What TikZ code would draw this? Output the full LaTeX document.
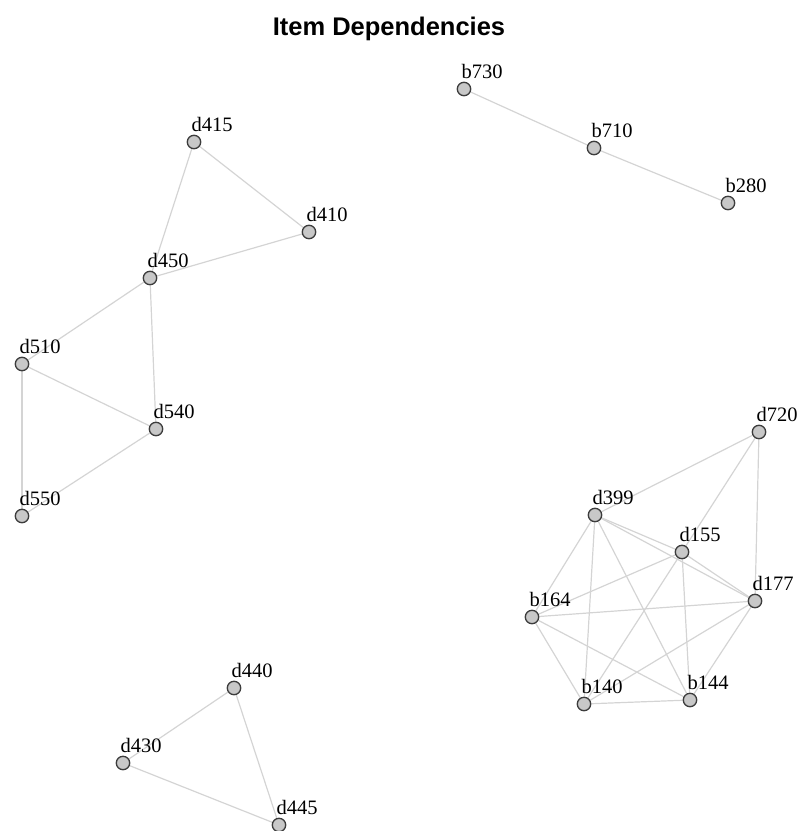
\documentclass[tikz,border=0pt]{standalone}
\usepackage{fontspec}
\setmainfont{Liberation Serif}
\newfontfamily\titlefont{Liberation Sans}
\usetikzlibrary{backgrounds}

\definecolor{vfill}{HTML}{C8C8C8}
\definecolor{vline}{HTML}{3C3C3C}
\definecolor{eline}{HTML}{D4D4D4}

\tikzset{
  vtx/.style={circle, draw=vline, fill=vfill, line width=1.3pt,
              minimum size=13.4pt, inner sep=0pt},
  lab/.style={anchor=base west, inner sep=0pt,
              font=\fontsize{20.5}{20.5}\selectfont},
  edge/.style={draw=eline, line width=1.2pt},
}

% vertex with its name printed above right
\newcommand\gvertex[3]{%
  \node[vtx] (#1) at (#2,#3) {};
  \node[lab] (#1-t) at ([xshift=-2.5pt,yshift=11pt]#1.center) {#1};}

\begin{document}
\begin{tikzpicture}[x=1pt,y=-1pt]
\useasboundingbox (0,0) rectangle (802,831);

\node[anchor=base, inner sep=0pt, font=\titlefont\bfseries\fontsize{25.5}{25.5}\selectfont]
  (title) at (389,35) {Item Dependencies};

% b-chain
\gvertex{b730}{464}{89}
\gvertex{b710}{594}{148}
\gvertex{b280}{728}{203}

% d4xx / d5xx group
\gvertex{d415}{194}{142}
\gvertex{d410}{309}{232}
\gvertex{d450}{150}{278}
\gvertex{d510}{22}{364}
\gvertex{d540}{156}{429}
\gvertex{d550}{22}{516}

% dense cluster
\gvertex{d720}{759}{432}
\gvertex{d399}{595}{515}
\gvertex{d155}{682}{552}
\gvertex{d177}{755}{601}
\gvertex{b164}{532}{617}
\gvertex{b140}{584}{704}
\gvertex{b144}{690}{700}

% bottom triangle
\gvertex{d440}{234}{688}
\gvertex{d430}{123}{763}
\gvertex{d445}{279}{825}

\begin{scope}[on background layer]
  \foreach \a/\b in {b730/b710, b710/b280,
      d415/d410, d415/d450, d410/d450, d450/d510, d450/d540,
      d510/d540, d510/d550, d540/d550,
      d720/d399, d720/d155, d720/d177,
      d399/d155, d399/d177, d399/b164, d399/b140, d399/b144,
      d155/b164, d155/b140, d155/b144, d155/d177,
      d177/b164, d177/b140, d177/b144,
      b164/b140, b164/b144, b140/b144,
      d440/d430, d440/d445, d430/d445}
    \draw[edge] (\a) -- (\b);
\end{scope}
\end{tikzpicture}
\end{document}
